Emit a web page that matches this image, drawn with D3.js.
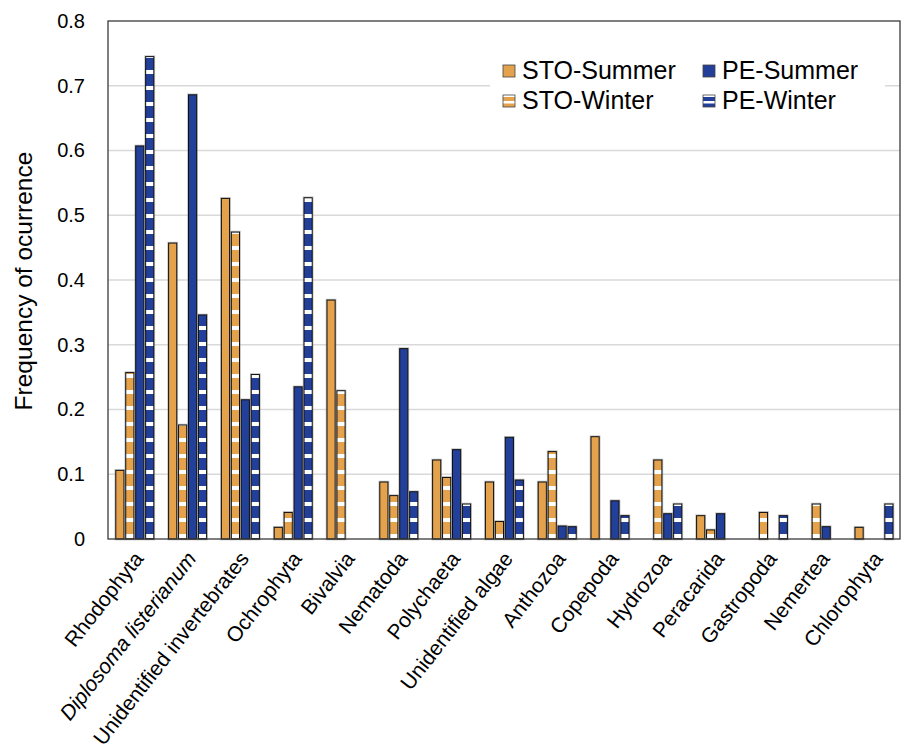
<!DOCTYPE html>
<html>
<head>
<meta charset="utf-8">
<script src="https://cdn.jsdelivr.net/npm/d3@7/dist/d3.min.js"></script>
<style>
  html, body { margin: 0; padding: 0; background: #fff; }
  svg { display: block; font-family: "Liberation Sans", Arial, sans-serif; }
</style>
</head>
<body>
<svg id="chart" width="903" height="751"></svg>
<script>
// Prey groups along the x axis
const categories = [
  "Rhodophyta", "Diplosoma listerianum", "Unidentified invertebrates", "Ochrophyta",
  "Bivalvia", "Nematoda", "Polychaeta", "Unidentified algae", "Anthozoa",
  "Copepoda", "Hydrozoa", "Peracarida", "Gastropoda", "Nemertea", "Chlorophyta"
];
// Frequency of occurrence per series (0 = not recorded)
const stoSummer = [0.106, 0.457, 0.526, 0.018, 0.369, 0.088, 0.122, 0.088, 0.088, 0.158, 0, 0.036, 0, 0, 0.018];
const stoWinter = [0.257, 0.176, 0.474, 0.041, 0.229, 0.067, 0.095, 0.027, 0.135, 0, 0.122, 0.014, 0.041, 0.054, 0];
const peSummer  = [0.607, 0.686, 0.215, 0.235, 0, 0.294, 0.138, 0.157, 0.020, 0.059, 0.039, 0.039, 0, 0.019, 0];
const peWinter  = [0.745, 0.346, 0.254, 0.527, 0, 0.073, 0.054, 0.091, 0.019, 0.036, 0.054, 0, 0.036, 0, 0.054];
const seriesNames = ["STO-Summer", "STO-Winter", "PE-Summer", "PE-Winter"];
const yTicks = [0, 0.1, 0.2, 0.3, 0.4, 0.5, 0.6, 0.7, 0.8];

const ORANGE = "#E3A24B";
const BLUE = "#223F99";

const series = [
  { name: seriesNames[0], values: stoSummer, color: ORANGE, striped: false },
  { name: seriesNames[1], values: stoWinter, color: ORANGE, striped: true },
  { name: seriesNames[2], values: peSummer,  color: BLUE,   striped: false },
  { name: seriesNames[3], values: peWinter,  color: BLUE,   striped: true }
];

const svg = d3.select("#chart");
const plot = { left: 108, right: 900, top: 21, bottom: 539 };

const x = d3.scaleBand().domain(categories).range([plot.left, plot.right]).paddingInner(0).paddingOuter(0);
const inner = d3.scaleBand().domain(seriesNames).range([-18.6, 19.4]).paddingInner(0.18).paddingOuter(0);
const y = d3.scaleLinear().domain([0, 0.8]).range([plot.bottom, plot.top]);

// Horizontal stripe fills for the winter series
const defs = svg.append("defs");
function stripe(id, color) {
  const p = defs.append("pattern").attr("id", id)
    .attr("patternUnits", "userSpaceOnUse")
    .attr("x", 0).attr("y", 6).attr("width", 10).attr("height", 16);
  p.append("rect").attr("width", 10).attr("height", 16).attr("fill", color);
  p.append("rect").attr("width", 10).attr("height", 4).attr("fill", "#fff");
}
stripe("stripeOrange", ORANGE);
stripe("stripeBlue", BLUE);
const fillFor = s => s.striped ? (s.color === ORANGE ? "url(#stripeOrange)" : "url(#stripeBlue)") : s.color;

// Gridlines
svg.append("g").selectAll("line").data(yTicks.filter(t => t > 0 && t < 0.8)).join("line")
  .attr("x1", plot.left).attr("x2", plot.right)
  .attr("y1", d => y(d)).attr("y2", d => y(d))
  .attr("stroke", "#d9d9d9").attr("stroke-width", 1.5);

// Bars
const barG = svg.append("g");
series.forEach(s => {
  const data = categories.map((c, i) => ({ c, v: s.values[i] })).filter(d => d.v > 0);
  const g = barG.append("g");
  // soft grey halo around each bar
  g.selectAll("rect.halo").data(data).join("rect").attr("class", "halo")
    .attr("x", d => x(d.c) + x.bandwidth() / 2 + inner(s.name))
    .attr("y", d => y(d.v))
    .attr("width", inner.bandwidth())
    .attr("height", d => y(0) - y(d.v))
    .attr("fill", "none").attr("stroke", "#8c8c8c").attr("stroke-width", 2.6).attr("stroke-opacity", 0.55);
  g.selectAll("rect.bar").data(data).join("rect").attr("class", "bar")
    .attr("x", d => x(d.c) + x.bandwidth() / 2 + inner(s.name))
    .attr("y", d => y(d.v))
    .attr("width", inner.bandwidth())
    .attr("height", d => y(0) - y(d.v))
    .attr("fill", fillFor(s)).attr("stroke", "#111").attr("stroke-width", 1);
});

// Plot frame
svg.append("rect")
  .attr("x", plot.left).attr("y", plot.top)
  .attr("width", plot.right - plot.left).attr("height", plot.bottom - plot.top)
  .attr("fill", "none").attr("stroke", "#3a3a3a").attr("stroke-width", 1.3);

// Y axis labels
const yAxis = d3.axisLeft(y).tickValues(yTicks).tickFormat(d => d === 0 ? "0" : d3.format(".1f")(d)).tickSize(0).tickPadding(23);
const yg = svg.append("g").attr("transform", `translate(${plot.left},0)`).call(yAxis);
yg.select(".domain").remove();
yg.selectAll("text").attr("font-size", 20).attr("fill", "#000").attr("font-family", "Liberation Sans, Arial, sans-serif");

// Y axis title
svg.append("text")
  .attr("transform", "translate(32,281) rotate(-90)")
  .attr("text-anchor", "middle")
  .attr("font-size", 24.5).attr("fill", "#000")
  .text("Frequency of ocurrence");

// X axis labels, rotated
svg.append("g").selectAll("text").data(categories).join("text")
  .attr("transform", d => `translate(${x(d) + x.bandwidth() / 2 + 10},559) rotate(-52)`)
  .attr("text-anchor", "end")
  .attr("font-size", 21).attr("fill", "#000")
  .style("font-style", d => d === "Diplosoma listerianum" ? "italic" : "normal")
  .text(d => d);

// Legend
const legend = svg.append("g");
legend.append("rect").attr("x", 490).attr("y", 55).attr("width", 395).attr("height", 65).attr("fill", "#fff");
const legendPos = [
  { s: series[0], x: 503, y: 71 },
  { s: series[2], x: 703, y: 71 },
  { s: series[1], x: 503, y: 101 },
  { s: series[3], x: 703, y: 101 }
];
legendPos.forEach(p => {
  const stripeId = p.s.color === ORANGE ? "lgOrange" : "lgBlue";
  if (p.s.striped) {
    const lp = defs.append("pattern").attr("id", stripeId)
      .attr("patternUnits", "userSpaceOnUse").attr("x", 0).attr("y", p.y - 6)
      .attr("width", 12).attr("height", 12);
    lp.append("rect").attr("width", 12).attr("height", 12).attr("fill", p.s.color);
    lp.append("rect").attr("y", 0).attr("width", 12).attr("height", 2).attr("fill", "#fff");
    lp.append("rect").attr("y", 6).attr("width", 12).attr("height", 2.5).attr("fill", "#fff");
  }
  legend.append("rect")
    .attr("x", p.x).attr("y", p.y - 6).attr("width", 12).attr("height", 12)
    .attr("fill", p.s.striped ? `url(#${stripeId})` : p.s.color)
    .attr("stroke", "#444").attr("stroke-width", 0.8);
  legend.append("text")
    .attr("x", p.x + 19).attr("y", p.y + 7.5)
    .attr("font-size", 25).attr("fill", "#000")
    .text(p.s.name);
});
</script>
</body>
</html>
